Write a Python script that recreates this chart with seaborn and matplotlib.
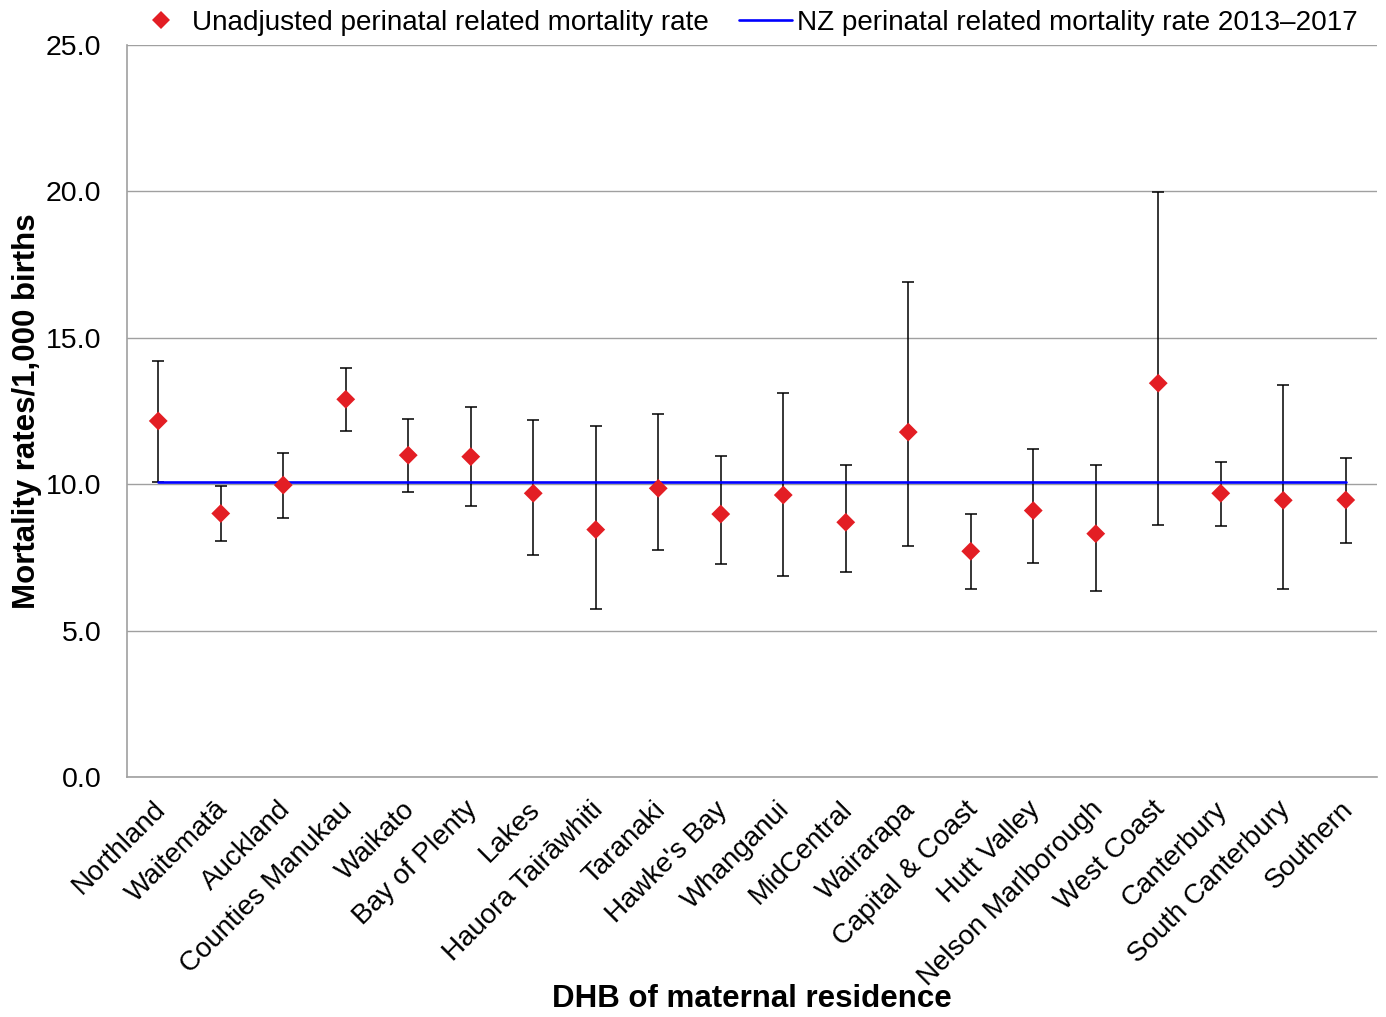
import numpy as np
import pandas as pd
import matplotlib
matplotlib.use("Agg")
import matplotlib.pyplot as plt
import matplotlib.transforms as mtransforms
from matplotlib.lines import Line2D
import seaborn as sns

# ---------------- data ----------------
dhbs = ["Northland", "Waitematā", "Auckland", "Counties Manukau", "Waikato",
        "Bay of Plenty", "Lakes", "Hauora Tairāwhiti", "Taranaki", "Hawke's Bay",
        "Whanganui", "MidCentral", "Wairarapa", "Capital & Coast", "Hutt Valley",
        "Nelson Marlborough", "West Coast", "Canterbury", "South Canterbury", "Southern"]
rates = [12.16, 9.00, 9.97, 12.90, 10.99, 10.94, 9.69, 8.45, 9.86, 8.98,
         9.63, 8.70, 11.78, 7.71, 9.10, 8.31, 13.45, 9.69, 9.45, 9.46]
ci_lower = [10.09, 8.06, 8.83, 11.81, 9.72, 9.24, 7.59, 5.73, 7.74, 7.26,
            6.88, 7.01, 7.89, 6.42, 7.30, 6.35, 8.60, 8.58, 6.42, 7.99]
ci_upper = [14.22, 9.95, 11.08, 13.98, 12.23, 12.64, 12.18, 11.99, 12.39, 10.97,
            13.11, 10.65, 16.92, 8.99, 11.19, 10.65, 19.98, 10.77, 13.40, 10.91]
nz_rate = 10.08
y_ticks = [0, 5, 10, 15, 20, 25]

series_label = "Unadjusted perinatal related mortality rate"
nz_label = "NZ perinatal related mortality rate 2013\u20132017"
x_title = "DHB of maternal residence"
y_title = "Mortality rates/1,000 births"

# ---------------- style ----------------
sns.set_style("white")
plt.rcParams["font.family"] = ["Liberation Sans", "DejaVu Sans"]
plt.rcParams["text.color"] = "black"
plt.rcParams["axes.labelcolor"] = "black"
plt.rcParams["xtick.color"] = "black"
plt.rcParams["ytick.color"] = "black"

RED = "#E31E24"
BLUE = "#0000FF"
GRID = "#A0A0A0"

n = len(dhbs)
df = pd.DataFrame({
    "dhb": dhbs,
    "pos": np.arange(n),
    "rate": rates,
    "lo": ci_lower,
    "hi": ci_upper,
    "nz": [nz_rate] * n,
})

fig = plt.figure(figsize=(13.86, 10.17), dpi=100)
ax = fig.add_axes([127 / 1386, 1 - 777 / 1017, 1250 / 1386, 732 / 1017])

# error bars
ax.errorbar(df["pos"], df["rate"],
            yerr=[df["rate"] - df["lo"], df["hi"] - df["rate"]],
            fmt="none", ecolor="black", elinewidth=1.1, capsize=4.5,
            capthick=1.1, zorder=3)

# NZ rate line
sns.lineplot(data=df, x="pos", y="nz", color=BLUE, linewidth=1.9,
             ax=ax, legend=False, zorder=4)

# points
sns.scatterplot(data=df, x="pos", y="rate", marker="D", s=92, color=RED,
                edgecolor="none", linewidth=0, ax=ax, legend=False, zorder=5)

# axes
ax.set_xlim(-0.5, n - 0.5)
ax.set_ylim(0, 25)
ax.set_yticks(y_ticks)
ax.set_yticklabels([f"{v:.1f}" for v in y_ticks], fontsize=20.5)
ax.set_xticks(np.arange(n))
ax.set_xticklabels(dhbs, rotation=45, ha="right", va="top",
                   rotation_mode="anchor", fontsize=20)
ax.set_xticks(np.arange(-0.5, n, 1), minor=True)
ax.tick_params(axis="x", which="major", length=0, pad=14, labelcolor="black")
ax.tick_params(axis="x", which="minor", length=6.5, width=1, color=GRID)
ax.tick_params(axis="y", which="major", length=6.5, width=1, color=GRID,
               pad=12, labelcolor="black")
offset = mtransforms.ScaledTranslation(-4.5 / 72, 0, fig.dpi_scale_trans)
for lab in ax.get_xticklabels():
    lab.set_transform(lab.get_transform() + offset)

ax.yaxis.grid(True, color=GRID, linewidth=1)
ax.xaxis.grid(False)
ax.set_axisbelow(True)
for s in ["top", "right"]:
    ax.spines[s].set_visible(False)
for s in ["left", "bottom"]:
    ax.spines[s].set_color(GRID)
    ax.spines[s].set_linewidth(1.2)

ax.set_xlabel(x_title, fontsize=22.5, fontweight="bold", color="black")
ax.set_ylabel(y_title, fontsize=22.5, fontweight="bold", color="black")
ax.xaxis.set_label_coords(0.5, -0.283)
ax.yaxis.set_label_coords(-0.068, 0.5)

handles = [
    Line2D([], [], marker="D", linestyle="none", color=RED, markersize=9.5,
           markeredgewidth=0),
    Line2D([], [], color=BLUE, linewidth=1.9),
]
fig.legend(handles, [series_label, nz_label], loc="center",
           bbox_to_anchor=(746 / 1386, 1 - 23 / 1017), ncol=2, frameon=False,
           fontsize=20.1, handlelength=1.9, handletextpad=0.15,
           columnspacing=1.1, borderpad=0, borderaxespad=0, labelcolor="black")

fig.savefig("out.png", dpi=100)
